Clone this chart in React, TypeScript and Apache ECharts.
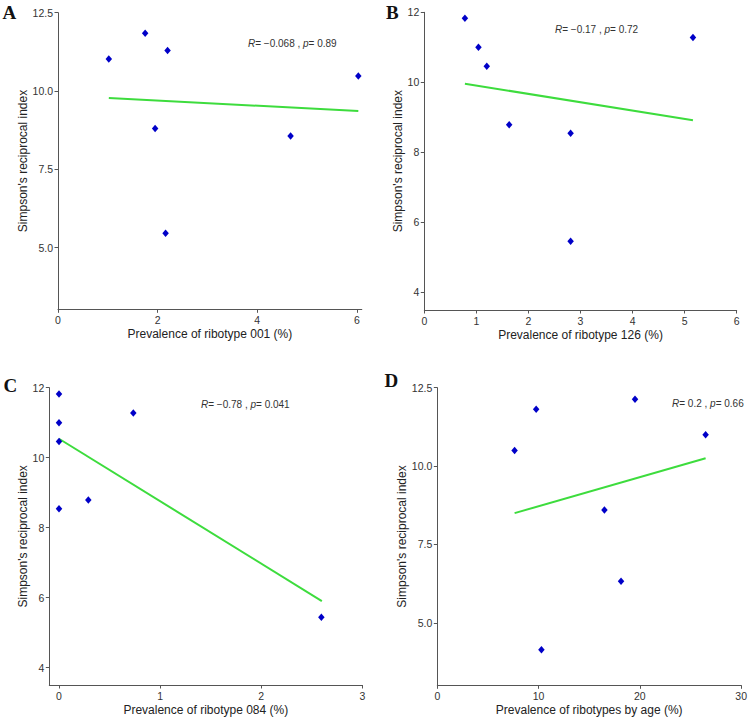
import React, { useEffect, useRef } from "react";
import * as echarts from "echarts";

// Panel A: ribotype 001
const aX = [1.02, 1.75, 2.2, 1.95, 2.16, 4.67, 6.03];
const aY = [11.02, 11.84, 11.29, 8.8, 5.46, 8.56, 10.48];
const aFitX = [1.02, 6.03];
const aFitY = [9.78, 9.36];

// Panel B: ribotype 126
const bX = [0.78, 1.04, 1.2, 1.63, 2.81, 2.81, 5.16];
const bY = [11.83, 11.0, 10.46, 8.79, 8.55, 5.46, 11.28];
const bFitX = [0.78, 5.16];
const bFitY = [9.96, 8.92];

// Panel C: ribotype 084
const cX = [0, 0, 0, 0, 0.29, 0.735, 2.595];
const cY = [11.82, 11.0, 10.46, 8.54, 8.79, 11.28, 5.44];
const cFitX = [0, 2.6];
const cFitY = [10.54, 5.9];

// Panel D: ribotypes by age
const dX = [7.63, 9.76, 10.28, 16.5, 18.14, 19.52, 26.49];
const dY = [10.5, 11.81, 4.14, 8.6, 6.33, 12.13, 11.0];
const dFitX = [7.63, 26.49];
const dFitY = [8.5, 10.25];

const xTicksA = [0, 2, 4, 6];
const yTicksA = [5, 7.5, 10, 12.5];
const xTicksB = [0, 1, 2, 3, 4, 5, 6];
const yTicksB = [4, 6, 8, 10, 12];
const xTicksC = [0, 1, 2, 3];
const yTicksC = [4, 6, 8, 10, 12];
const xTicksD = [0, 10, 20, 30];
const yTicksD = [5, 7.5, 10, 12.5];

const xTitles = [
  "Prevalence of ribotype 001 (%)",
  "Prevalence of ribotype 126 (%)",
  "Prevalence of ribotype 084 (%)",
  "Prevalence of ribotypes by age (%)",
];
const yTitle = "Simpson's reciprocal index";
const panelLabels = ["A", "B", "C", "D"];
const annotations = [
  ["−0.068", "0.89"],
  ["−0.17", "0.72"],
  ["−0.78", "0.041"],
  ["0.2", "0.66"],
];

const AXIS_COLOR = "#555";
const LABEL_COLOR = "#333";
const POINT_COLOR = "#0000c8";
const LINE_COLOR = "#3ddc3d";

export default function App() {
  const ref = useRef<HTMLDivElement>(null);
  useEffect(() => {
    if (!ref.current) return;
    const chart = echarts.init(ref.current, undefined, { renderer: "svg" });

    const grids = [
      { left: 58, top: 12.7, width: 303.8, height: 296.6 },
      { left: 424.3, top: 12.3, width: 312.4, height: 297.7 },
      { left: 49.3, top: 387.7, width: 313, height: 297.3 },
      { left: 437.3, top: 387.7, width: 305.4, height: 297.6 },
    ];
    const xRanges = [
      [0, 6.1],
      [0, 6],
      [-0.096, 3],
      [0, 30],
    ];
    const yRanges = [
      [3.03, 12.5],
      [3.5, 12],
      [3.5, 12],
      [3.01, 12.5],
    ];
    const xTicks = [xTicksA, xTicksB, xTicksC, xTicksD];
    const yTicks = [yTicksA, yTicksB, yTicksC, yTicksD];
    const yDecimals = [true, false, false, true];
    const yNameGaps = [27, 19, 20, 28];
    const xs = [aX, bX, cX, dX];
    const ys = [aY, bY, cY, dY];
    const fx = [aFitX, bFitX, cFitX, dFitX];
    const fy = [aFitY, bFitY, cFitY, dFitY];

    const axisLine = { show: true, onZero: false, lineStyle: { color: AXIS_COLOR, width: 1 } };
    const axisTick = (vals: number[]) => ({
      show: true,
      length: 3.5,
      lineStyle: { color: AXIS_COLOR },
      customValues: vals,
    });

    const xAxis = grids.map((_, i) => ({
      type: "value",
      gridIndex: i,
      min: xRanges[i][0],
      max: xRanges[i][1],
      axisLine,
      axisTick: axisTick(xTicks[i]),
      axisLabel: {
        customValues: xTicks[i],
        color: LABEL_COLOR,
        fontSize: 10.5,
        fontFamily: "Liberation Sans, Arial, sans-serif",
        margin: 5,
      },
      splitLine: { show: false },
      name: xTitles[i],
      nameLocation: "middle",
      nameGap: 19,
      nameTextStyle: {
        color: "#222",
        fontSize: 12,
        fontFamily: "Liberation Sans, Arial, sans-serif",
      },
    }));

    const yAxis = grids.map((_, i) => ({
      type: "value",
      gridIndex: i,
      min: yRanges[i][0],
      max: yRanges[i][1],
      axisLine,
      axisTick: axisTick(yTicks[i]),
      axisLabel: {
        customValues: yTicks[i],
        color: LABEL_COLOR,
        fontSize: 10.5,
        fontFamily: "Liberation Sans, Arial, sans-serif",
        margin: 5,
        formatter: (v: number) => (yDecimals[i] ? v.toFixed(1) : String(v)),
      },
      splitLine: { show: false },
      name: yTitle,
      nameLocation: "middle",
      nameGap: yNameGaps[i],
      nameTextStyle: {
        color: "#222",
        fontSize: 12,
        fontFamily: "Liberation Sans, Arial, sans-serif",
      },
    }));

    const series: any[] = [];
    for (let i = 0; i < 4; i++) {
      series.push({
        type: "line",
        xAxisIndex: i,
        yAxisIndex: i,
        data: fx[i].map((x, k) => [x, fy[i][k]]),
        symbol: "none",
        lineStyle: { color: LINE_COLOR, width: 2 },
        z: 2,
      });
      series.push({
        type: "scatter",
        xAxisIndex: i,
        yAxisIndex: i,
        data: xs[i].map((x, k) => [x, ys[i][k]]),
        symbol: "diamond",
        symbolSize: [6.5, 7.5],
        itemStyle: { color: POINT_COLOR, opacity: 1 },
        z: 3,
      });
    }

    const labelPos = [
      [2.5, 3],
      [386, 3],
      [3.5, 376],
      [384.5, 371],
    ];
    const annPos = [
      [248, 43],
      [555, 29],
      [201, 404],
      [672, 403],
    ];

    const graphic: any[] = [];
    panelLabels.forEach((t, i) => {
      graphic.push({
        type: "text",
        left: labelPos[i][0],
        top: labelPos[i][1],
        style: {
          text: t,
          fontSize: 19,
          fontWeight: "bold",
          fontFamily: "Liberation Serif, Times New Roman, serif",
          fill: "#111",
        },
      });
    });
    annotations.forEach((a, i) => {
      graphic.push({
        type: "text",
        x: annPos[i][0],
        y: annPos[i][1],
        style: {
          text: `{i|R}= ${a[0]} , {i|p}= ${a[1]}`,
          fontSize: 10,
          fontFamily: "Liberation Sans, Arial, sans-serif",
          fill: "#333",
          verticalAlign: "middle",
          rich: {
            i: {
              fontStyle: "italic",
              fontSize: 10,
              fontFamily: "Liberation Sans, Arial, sans-serif",
              fill: "#333",
              color: "#333",
            },
          },
        },
      });
    });

    chart.setOption({
      animation: false,
      backgroundColor: "#ffffff",
      grid: grids.map((g) => ({ ...g, containLabel: false })),
      xAxis,
      yAxis,
      series,
      graphic,
    });
    return () => chart.dispose();
  }, []);

  return (
    <div
      ref={ref}
      style={{ position: "absolute", left: 0, top: 0, width: 750, height: 726 }}
    />
  );
}
